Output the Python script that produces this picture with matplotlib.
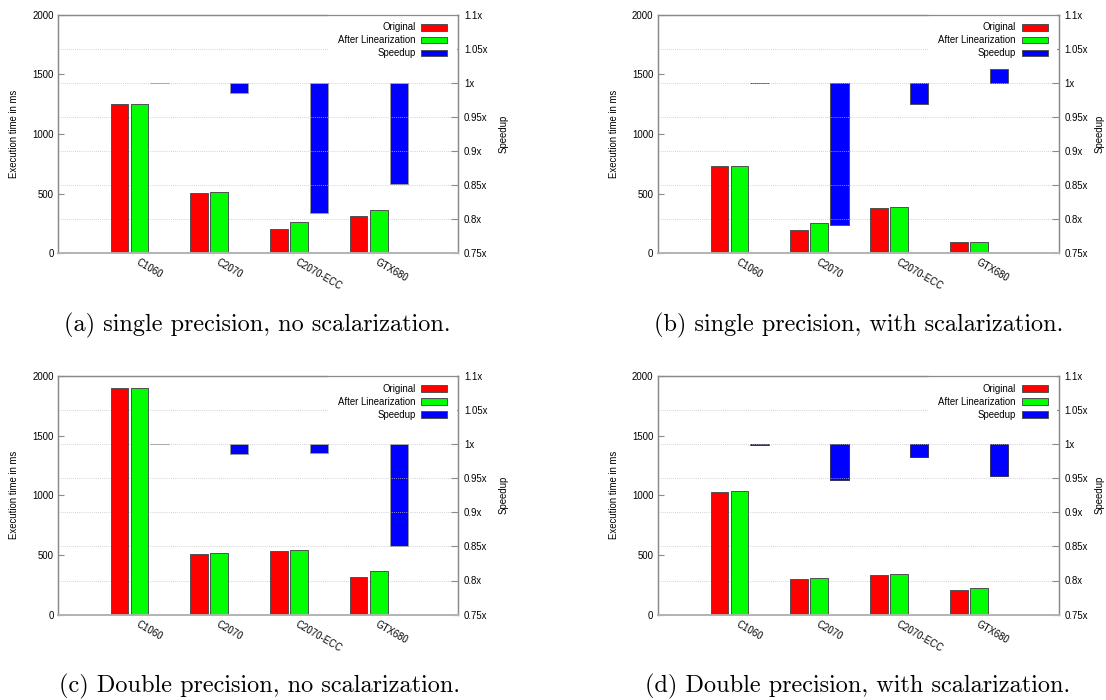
import matplotlib
matplotlib.use('Agg')
import matplotlib.pyplot as plt
from matplotlib.patches import Patch
import numpy as np

# GPU names on the x axis
gpus = ['C1060', 'C2070', 'C2070-ECC', 'GTX680']

# (a) single precision, no scalarization
orig_a = [1248, 503, 207, 311]
lin_a = [1248, 512, 260, 364]
speed_a = [1.0, 0.985, 0.809, 0.851]

# (b) single precision, with scalarization
orig_b = [728, 195, 379, 98]
lin_b = [728, 254, 391, 98]
speed_b = [1.0, 0.792, 0.969, 1.021]

# (c) double precision, no scalarization
orig_c = [1900, 508, 535, 313]
lin_c = [1900, 517, 544, 366]
speed_c = [1.0, 0.985, 0.987, 0.850]

# (d) double precision, with scalarization
orig_d = [1031, 295, 334, 207]
lin_d = [1037, 310, 340, 219]
speed_d = [0.998, 0.948, 0.981, 0.953]

captions = ['(a) single precision, no scalarization.',
            '(b) single precision, with scalarization.',
            '(c) Double precision, no scalarization.',
            '(d) Double precision, with scalarization.']

speed_ticks = [0.75, 0.8, 0.85, 0.9, 0.95, 1.0, 1.05, 1.1]
speed_labels = ['0.75x', '0.8x', '0.85x', '0.9x', '0.95x', '1x', '1.05x', '1.1x']

plt.rcParams['font.family'] = ['Liberation Sans', 'DejaVu Sans']
FS = 6.9
EDGE = '#505050'
SPINE = '#8a8a8a'


def draw_panel(ax, orig, lin, speed, speed_edge, y2pad):
    """Draws one gnuplot style histogram with a speedup bar on y2."""
    x = np.arange(len(gpus))
    w = 0.222
    ax2 = ax.twinx()
    # bars of ms on the front axes, grid and speedup behind
    ax.set_zorder(ax2.get_zorder() + 1)
    ax.patch.set_visible(False)

    ax.bar(x - 0.252, orig, w, color='#ff0000', edgecolor=EDGE, linewidth=0.7)
    ax.bar(x, lin, w, color='#00ff00', edgecolor=EDGE, linewidth=0.7)
    heights = [s - 1.0 for s in speed]
    ax2.bar(x + 0.252, heights, 0.23, bottom=1.0, color='#0000ff',
            edgecolor=speed_edge, linewidth=0.7)

    ax.set_xlim(-1.02, 4.0)
    ax.set_ylim(0, 2000)
    ax2.set_ylim(0.75, 1.1)
    ax.set_yticks([0, 500, 1000, 1500, 2000])
    ax2.set_yticks(speed_ticks)
    ax2.set_yticklabels(speed_labels)
    ax.set_xticks(x)
    ax.set_xticklabels(gpus, rotation=-30, ha='left', va='top',
                       rotation_mode='anchor')
    ax.tick_params(axis='x', length=0, pad=3, labelsize=FS)
    ax.tick_params(axis='y', direction='in', length=4, color=SPINE,
                   labelsize=FS, pad=3.3)
    ax2.tick_params(axis='y', direction='in', length=5, color=SPINE,
                    labelsize=FS, pad=4)
    ax2.yaxis.grid(True, linestyle=(0, (1, 1.5)), color='#c4c4c4',
                   linewidth=0.6)
    for a in (ax, ax2):
        for s in a.spines.values():
            s.set_color(SPINE)
            s.set_linewidth(0.9)
        a.spines['bottom'].set_color('#b5b5b5')
        a.spines['bottom'].set_linewidth(1.3)

    ax.set_ylabel('Execution time in ms', fontsize=FS, labelpad=9.5)
    ax2.set_ylabel('Speedup', fontsize=FS, labelpad=y2pad)

    handles = [Patch(facecolor='#ff0000', edgecolor=EDGE, linewidth=0.7),
               Patch(facecolor='#00ff00', edgecolor=EDGE, linewidth=0.7),
               Patch(facecolor='#0000ff', edgecolor=EDGE, linewidth=0.7)]
    leg = ax.legend(handles, ['Original', 'After Linearization', 'Speedup'],
                    loc='upper right', bbox_to_anchor=(0.9965, 1.008),
                    fontsize=FS, markerfirst=False, frameon=True,
                    fancybox=False, framealpha=1.0, facecolor='white',
                    edgecolor='none', borderpad=1.0, borderaxespad=0,
                    handlelength=2.75, handleheight=0.72,
                    handletextpad=0.6, labelspacing=0.31)
    leg.set_zorder(2.4)
    return ax2


fig = plt.figure(figsize=(11.06, 7.0), dpi=100)

boxes = [[0.0526, 0.6383, 0.3619, 0.3406],
         [0.5950, 0.6383, 0.3624, 0.3406],
         [0.0526, 0.1220, 0.3619, 0.3410],
         [0.5950, 0.1220, 0.3624, 0.3410]]
panels = [(orig_a, lin_a, speed_a, '#999999', 8.0),
          (orig_b, lin_b, speed_b, '#505050', 4.8),
          (orig_c, lin_c, speed_c, '#999999', 8.0),
          (orig_d, lin_d, speed_d, '#303060', 4.8)]

for box, (o, l, s, e, p) in zip(boxes, panels):
    ax = fig.add_axes(box)
    draw_panel(ax, o, l, s, e, p)

cap_pos = [(0.2330, 0.5357), (0.7763, 0.5357), (0.2342, 0.0200), (0.7758, 0.0200)]
for (cx, cy), txt in zip(cap_pos, captions):
    fig.text(cx, cy, txt, family='cmr10', fontsize=17.5, ha='center',
             va='center')

fig.savefig('out.png', dpi=100)
